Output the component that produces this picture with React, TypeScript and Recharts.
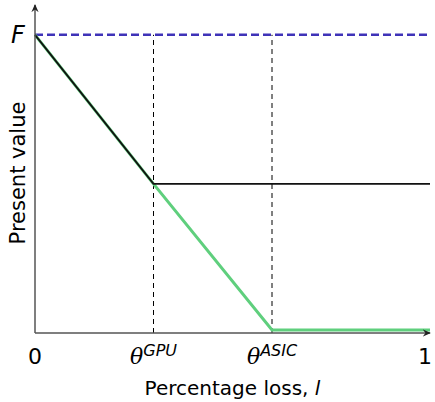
import React from 'react';
import { LineChart, Line, XAxis, YAxis, ReferenceLine } from 'recharts';

const faceValue = 1;
const thetaGPU = 0.3;
const thetaASIC = 0.6;

const xTicks = [0, thetaGPU, thetaASIC, 1];
const xTickLabels: { [key: string]: [string, string] } = {
    '0': ['0', ''],
    '0.3': ['θ', 'GPU'],
    '0.6': ['θ', 'ASIC'],
    '1': ['1', ''],
};

const cpuLine = [
    { l: 0, v: faceValue },
    { l: thetaGPU, v: 0.5 },
    { l: 1, v: 0.5 },
];

const gpuLine = [
    { l: 0, v: faceValue },
    { l: thetaGPU, v: 0.5 },
    { l: thetaASIC, v: 0.01 },
    { l: 1, v: 0.01 },
];

const font = '"DejaVu Sans", sans-serif';

const XTick = (props: any) => {
    const { x, y, payload } = props;
    const [main, sup] = xTickLabels[String(payload.value)] ?? [String(payload.value), ''];
    const isTheta = sup !== '';
    // keep the last label inside the picture
    const dx = payload.value === 1 ? -5 : 0;
    return (
        <text x={x + dx} y={y + 23} textAnchor="middle" fontFamily={font} fontSize={22} fill="#000">
            <tspan fontStyle={isTheta ? 'italic' : 'normal'} fontFamily={isTheta ? '"DejaVu Serif", serif' : font}>{main}</tspan>
            {isTheta && <tspan dy={-8} fontSize={16} fontStyle="italic">{sup}</tspan>}
        </text>
    );
};

const YTick = (props: any) => {
    const { y } = props;
    return (
        <text x={18} y={y + 8} textAnchor="middle" fontFamily={font} fontSize={24} fontStyle="italic" fill="#000">F</text>
    );
};

const YLabel = (props: any) => {
    const { viewBox } = props;
    const cy = viewBox.y + viewBox.height / 2 + 4;
    return (
        <text x={25} y={cy} transform={`rotate(-90, 25, ${cy})`} textAnchor="middle" fontFamily={font} fontSize={21} fill="#000">Present value</text>
    );
};

const XLabel = (props: any) => {
    const { viewBox } = props;
    const cx = viewBox.x + viewBox.width / 2;
    return (
        <text x={cx} y={395} textAnchor="middle" fontFamily={font} fontSize={20} fill="#000">
            Percentage loss, <tspan fontStyle="italic">l</tspan>
        </text>
    );
};

export default function App() {
    return (
        <div style={{ position: 'absolute', left: 0, top: 0, background: '#fff' }}>
            <LineChart width={435} height={402} margin={{ top: 5, right: 5, bottom: 0, left: 0 }}>
                <defs>
                    <marker id="arrowEnd" viewBox="0 0 10 10" refX="8" refY="5" markerWidth="6" markerHeight="6" orient="auto">
                        <path d="M0,1 L9,5 L0,9 L3,5 z" fill="#222" />
                    </marker>
                    <marker id="arrowStart" viewBox="0 0 10 10" refX="2" refY="5" markerWidth="6" markerHeight="6" orient="auto">
                        <path d="M10,1 L1,5 L10,9 L7,5 z" fill="#222" />
                    </marker>
                </defs>
                <XAxis
                    type="number"
                    dataKey="l"
                    domain={[0, 1]}
                    ticks={xTicks}
                    tick={<XTick />}
                    tickLine={false}
                    height={69}
                    axisLine={{ stroke: '#555', strokeWidth: 1.5, markerEnd: 'url(#arrowEnd)' }}
                    label={<XLabel />}
                />
                <YAxis
                    type="number"
                    dataKey="v"
                    domain={[0, 1.1]}
                    ticks={[faceValue]}
                    tick={<YTick />}
                    tickLine={false}
                    width={35}
                    axisLine={{ stroke: '#555', strokeWidth: 1.5, markerStart: 'url(#arrowStart)' }}
                    label={<YLabel />}
                />
                <ReferenceLine segment={[{ x: thetaGPU, y: 0 }, { x: thetaGPU, y: faceValue }]} stroke="#000" strokeDasharray="5 4" strokeWidth={1} />
                <ReferenceLine segment={[{ x: thetaASIC, y: 0 }, { x: thetaASIC, y: faceValue }]} stroke="#000" strokeDasharray="5 4" strokeWidth={1} />
                <ReferenceLine y={faceValue} stroke="#3f33b8" strokeDasharray="8 4" strokeWidth={2.5} />
                <Line data={gpuLine} dataKey="v" type="linear" stroke="#5fcf7d" strokeWidth={3} dot={false} isAnimationActive={false} />
                <Line data={cpuLine} dataKey="v" type="linear" stroke="#111" strokeWidth={1.8} dot={false} isAnimationActive={false} />
            </LineChart>
        </div>
    );
}
